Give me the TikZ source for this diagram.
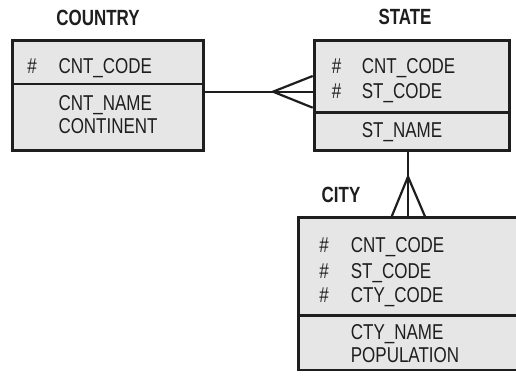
\documentclass[tikz,border=0pt]{standalone}
\usepackage{fontspec}
\setmainfont{Liberation Sans}[FakeStretch=0.79]
\newfontfamily\titlefont{Liberation Sans}[FakeStretch=0.77]
\definecolor{boxfill}{RGB}{230,230,230}
\definecolor{ink}{RGB}{30,30,30}
\begin{document}
\begin{tikzpicture}[x=1pt,y=-1pt,
  part/.style={draw=ink, fill=boxfill, line width=2.8pt, inner sep=0pt, anchor=north west},
  link/.style={draw=ink, line width=2.2pt},
  title/.style={font=\titlefont\fontsize{22}{26}\selectfont\bfseries, text=ink, inner sep=0pt, anchor=base},
  field/.style={font=\fontsize{21.5}{25}\selectfont, text=ink, inner sep=0pt, anchor=base west},
  hash/.style={font=\fontsize{21.5}{25}\selectfont, text=ink, inner sep=0pt, anchor=base}]
\useasboundingbox (0,0) rectangle (516,379);

% COUNTRY entity
\node[part, minimum width=190.7pt, minimum height=43.4pt] (cntKey) at (11,39.3) {};
\node[part, minimum width=190.7pt, minimum height=66.3pt] (cntAttr) at (11,82.7) {};
\node[title] (cntTitle) at (98,25.9) {COUNTRY};
\node[hash] (cntH1) at (32,73.9) {\#};
\node[field] (cntF1) at (58.3,73.9) {CNT\_CODE};
\node[field] (cntF2) at (58.3,111) {CNT\_NAME};
\node[field] (cntF3) at (58.3,133.4) {CONTINENT};

% STATE entity
\node[part, minimum width=195.6pt, minimum height=72.2pt] (stKey) at (312.7,39.3) {};
\node[part, minimum width=195.6pt, minimum height=37.8pt] (stAttr) at (312.7,111.5) {};
\node[title] (stTitle) at (405,24.2) {STATE};
\node[hash] (stH1) at (336.7,73.9) {\#};
\node[hash] (stH2) at (336.7,99) {\#};
\node[field] (stF1) at (361.7,73.9) {CNT\_CODE};
\node[field] (stF2) at (361.7,99) {ST\_CODE};
\node[field] (stF3) at (361.7,137.2) {ST\_NAME};

% CITY entity (runs past the right edge)
\node[part, minimum width=223.3pt, minimum height=97.2pt] (ctyKey) at (296.7,216.5) {};
\node[part, minimum width=223.3pt, minimum height=54.8pt] (ctyAttr) at (296.7,313.7) {};
\node[title] (ctyTitle) at (341,202.9) {CITY};
\node[hash] (ctyH1) at (324,252.7) {\#};
\node[hash] (ctyH2) at (324,278.4) {\#};
\node[hash] (ctyH3) at (324,302.7) {\#};
\node[field] (ctyF1) at (350.7,252.7) {CNT\_CODE};
\node[field] (ctyF2) at (350.7,278.4) {ST\_CODE};
\node[field] (ctyF3) at (350.7,302.7) {CTY\_CODE};
\node[field] (ctyF4) at (350.7,339.4) {CTY\_NAME};
\node[field] (ctyF5) at (350.7,362.7) {POPULATION};

% COUNTRY -< STATE (one to many)
\coordinate (crowA) at (273,91.7);
\draw[link] (cntAttr.east |- crowA) -- (stKey.west |- crowA);
\draw[link] (stKey.west |- 0,76) -- (crowA) -- (stKey.west |- 0,107.7);

% STATE -< CITY (one to many)
\coordinate (crowB) at (408,176.7);
\draw[link] (stAttr.south -| crowB) -- (ctyKey.north -| crowB);
\draw[link] (ctyKey.north -| 391.7,0) -- (crowB) -- (ctyKey.north -| 425,0);
\end{tikzpicture}
\end{document}
